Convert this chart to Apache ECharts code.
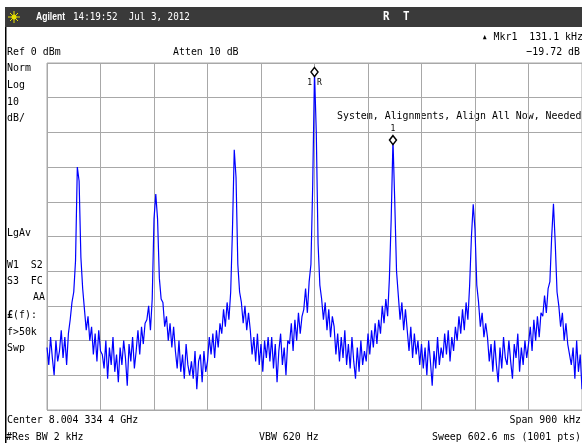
<!DOCTYPE html>
<html>
<head>
<meta charset="utf-8">
<script src="https://cdn.jsdelivr.net/npm/echarts/dist/echarts.min.js"></script>
<style>
  html, body { margin: 0; padding: 0; background: #fff; }
  #chart { width: 582px; height: 443px; }
</style>
</head>
<body>
<div id="chart"></div>
<script>
// sweep: center 8.004 334 4 GHz, span 900 kHz -> offsets in kHz
var spanStart = -450;
var spanEnd = 450;
var xTicks = 90;   // kHz per division
var yTicks = 10;   // dB per division
var refLevel = 0;
var bottomLevel = -100;

// trace in dBm (one point every 3 kHz)
var trace = [
  -82,-87,-79,-85,-90,-80,-86,-83,
  -77,-85,-79,-87,-78,
  -74,-69,
  -66,-57,-30,-34,-56,-65,
  -71,-77,-73,-80,
  -76,-84,-78,-86,-77,-83,
  -84,-88,-80,-91,-82,-87,-79,-89,-84,-92,-82,
  -87,-80,-85,-93,-81,-86,-79,-88,
  -83,-77,-84,-76,-81,-75,
  -74,-70,-77,-68,
  -45,-37.8,-45,-62,-68,
  -69,-76,
  -73,-80,-75,-82,-76,
  -83,-88,-80,-89,-84,-91,-81,-87,-90,
  -86,-91,-83,-94,-86,-84,-92,-83,-89,
  -86,-79,-84,-78,-85,-77,-82,-75,
  -78,-71,-76,-69,-74,
  -66,-48,-25,-33,-58,-66,
  -69,-75,-70,-77,-72,
  -77,-84,-79,-86,-78,-87,-81,-89,-80,-85,-79,
  -86,-79,-88,-81,-92,-83,-78,-87,-82,-90,-80,
  -81,-75,-83,-74,-80,-72,-78,-73,
  -71,-65,-72,-63,
  -58,-35,-2.6,-20,-52,-64,
  -68,-74,-69,-77,-71,-79,-73,
  -76,-84,-78,-86,-79,-85,-77,-87,
  -81,-88,-79,-86,-91,-82,-89,-80,-87,-83,
  -86,-78,-84,-77,-82,-75,-81,-74,
  -78,-70,-75,-68,-73,
  -62,-45,-22.2,-40,-60,
  -67,-74,-69,-77,-71,
  -77,-83,-76,-85,-78,-84,-80,-87,
  -81,-88,-82,-90,-80,-86,-93,-83,-88,-79,-87,-82,
  -85,-78,-84,-77,-86,-79,-83,-76,
  -80,-73,-78,-71,-77,-69,-74,
  -64,-50,-40.7,-48,-64,
  -69,-76,-72,-79,-75,
  -79,-86,-81,-89,-80,-87,-92,-82,-88,-79,-85,
  -87,-80,-86,-91,-81,-85,-78,-89,-82,-87,-80,-85,
  -81,-76,-83,-74,-80,-73,-79,-72,
  -73,-67,-72,-65,-63,
  -50,-40.6,-52,-66,
  -70,-76,-72,-80,-75,-81,
  -81,-87,-82,-91,-80,-89,-84,-94
];

// marker positions (index into trace) and their labels
var markerIdx = [150, 194];
var markerLabels = ['1 R', '1'];

var step = (spanEnd - spanStart) / (trace.length - 1);
var points = trace.map(function (v, i) { return [spanStart + i * step, v]; });

var mono = '"DejaVu Sans Mono", "Liberation Mono", monospace';

function txt(x, y, s, o) {
  o = o || {};
  return {
    type: 'text', x: x, y: y, scaleX: o.sx || 0.9, silent: true,
    style: {
      text: s, x: 0, y: 0,
      fill: o.c || '#000',
      font: (o.w || 'normal') + ' ' + (o.fs || 11) + 'px ' + (o.ff || mono),
      textAlign: o.a || 'left',
      textVerticalAlign: 'middle'
    }
  };
}

var graphics = [
  // header bar
  { type: 'rect', shape: { x: 5, y: 7, width: 577, height: 20 }, style: { fill: '#3a3a3a' }, silent: true },
  // left black rule
  { type: 'rect', shape: { x: 5, y: 27, width: 1.5, height: 416 }, style: { fill: '#000' }, silent: true },
  // sun icon
  { type: 'circle', shape: { cx: 14, cy: 17, r: 2.5 }, style: { fill: '#e8e000' }, silent: true },
  { type: 'line', shape: { x1: 8, y1: 17, x2: 20, y2: 17 }, style: { stroke: '#e8e000', lineWidth: 1 }, silent: true },
  { type: 'line', shape: { x1: 14, y1: 11, x2: 14, y2: 23 }, style: { stroke: '#e8e000', lineWidth: 1 }, silent: true },
  { type: 'line', shape: { x1: 10, y1: 13, x2: 18, y2: 21 }, style: { stroke: '#e8e000', lineWidth: 1 }, silent: true },
  { type: 'line', shape: { x1: 18, y1: 13, x2: 10, y2: 21 }, style: { stroke: '#e8e000', lineWidth: 1 }, silent: true },
  txt(36, 17, 'Agilent', { c: '#fff', w: 'bold', fs: 11, sx: 0.78, ff: '"Liberation Sans", Arial, sans-serif' }),
  txt(73, 17, '14:19:52  Jul 3, 2012', { c: '#fff', sx: 0.84 }),
  txt(383, 17, 'R', { c: '#fff', w: 'bold', fs: 12 }),
  txt(403, 17, 'T', { c: '#fff', w: 'bold', fs: 12 }),
  // marker readout
  txt(583, 37, '\u25b4 Mkr1  131.1 kHz', { a: 'right' }),
  txt(7, 52, 'Ref 0 dBm', {}),
  txt(173, 52, 'Atten 10 dB', {}),
  txt(580, 52, '\u221219.72 dB', { a: 'right' }),
  // left annotations
  txt(7, 68, 'Norm', {}),
  txt(7, 85, 'Log', {}),
  txt(7, 102, '10', {}),
  txt(7, 118, 'dB/', {}),
  txt(7, 233, 'LgAv', {}),
  txt(7, 265, 'W1  S2', {}),
  txt(7, 281, 'S3  FC', {}),
  txt(45, 297, 'AA', { a: 'right' }),
  txt(7, 315, '\u00a3', { w: 'bold' }),
  txt(13, 315, '(f):', {}),
  txt(7, 332, 'f>50k', {}),
  txt(7, 348, 'Swp', {}),
  // message
  txt(337, 116, 'System, Alignments, Align All Now, Needed', {}),
  // footer
  txt(7, 420, 'Center 8.004 334 4 GHz', {}),
  txt(581, 420, 'Span 900 kHz', { a: 'right' }),
  txt(6, 437, '#Res BW 2 kHz', {}),
  txt(259, 437, 'VBW 620 Hz', {}),
  txt(581, 437, 'Sweep 602.6 ms (1001 pts)', { a: 'right' })
];

var chart = echarts.init(document.getElementById('chart'), null, { renderer: 'canvas' });
chart.setOption({
  animation: false,
  backgroundColor: '#fff',
  grid: { left: 47, top: 63, width: 536, height: 347, show: true, borderColor: '#a8a8a8', borderWidth: 1 },
  xAxis: {
    type: 'value', min: spanStart, max: spanEnd, interval: xTicks,
    axisLabel: { show: false }, axisTick: { show: false }, axisLine: { show: false },
    splitLine: { show: true, lineStyle: { color: '#a8a8a8', width: 1 } }
  },
  yAxis: {
    type: 'value', min: bottomLevel, max: refLevel, interval: yTicks,
    axisLabel: { show: false }, axisTick: { show: false }, axisLine: { show: false },
    splitLine: { show: true, lineStyle: { color: '#a8a8a8', width: 1 } }
  },
  series: [{
    type: 'line',
    data: points,
    showSymbol: false,
    silent: true,
    sampling: null,
    lineStyle: { color: '#0000ff', width: 1.2 },
    markPoint: {
      symbol: 'diamond',
      symbolSize: [7, 9],
      itemStyle: { color: '#fff', borderColor: '#000', borderWidth: 1.5 },
      data: markerIdx.map(function (idx, k) {
        return {
          coord: points[idx],
          label: {
            show: true,
            formatter: markerLabels[k],
            position: k === 0 ? 'bottom' : 'top',
            distance: 2,
            color: '#000',
            fontSize: 8,
            fontFamily: 'DejaVu Sans Mono'
          }
        };
      })
    }
  }],
  graphic: graphics
});
</script>
</body>
</html>
